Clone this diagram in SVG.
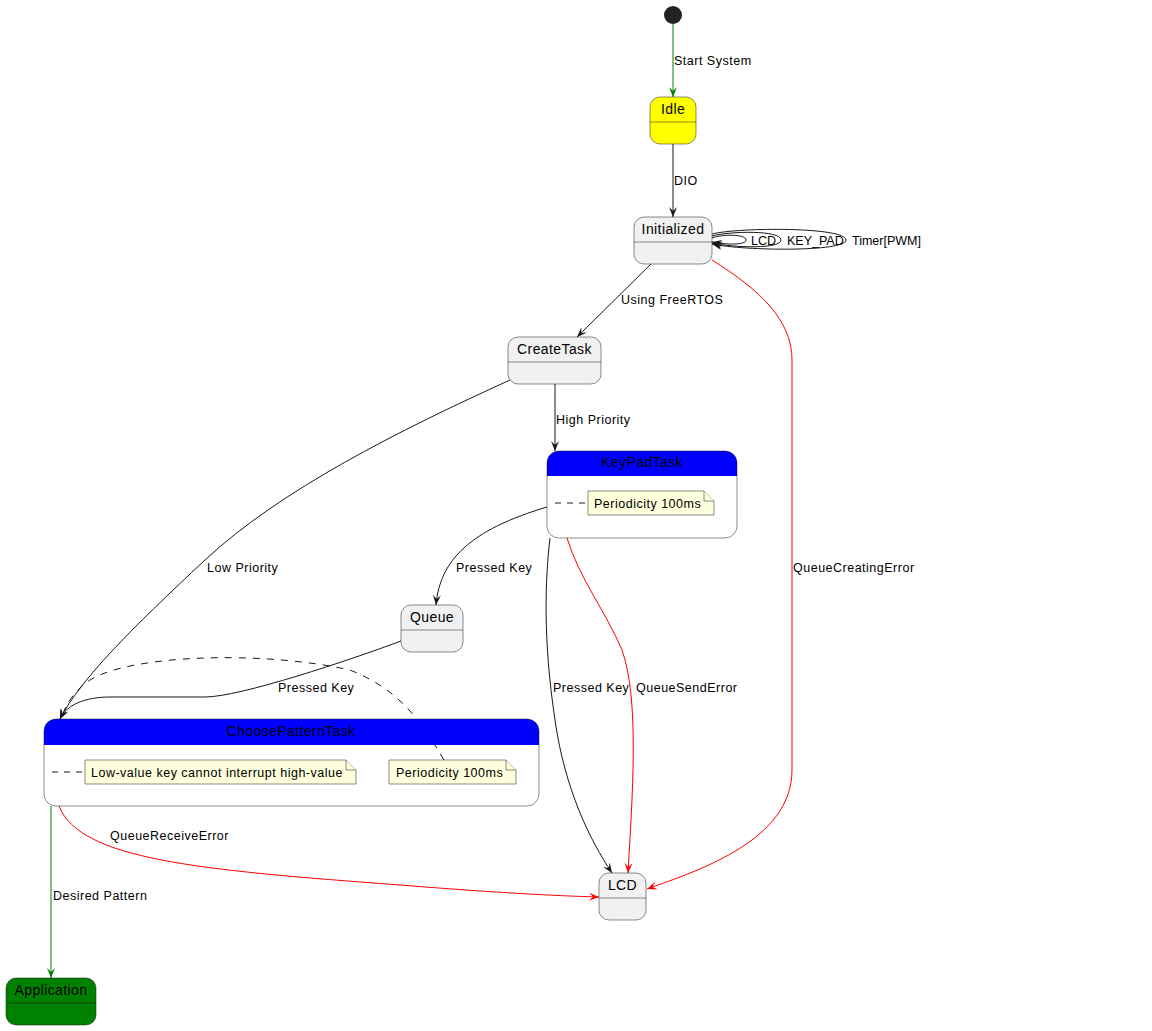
<svg xmlns="http://www.w3.org/2000/svg" width="1152" height="1031" viewBox="0 0 1152 1031">
<style>
text{font-family:"Liberation Sans",Arial,sans-serif;fill:#000}
.lbl{font-size:12.5px;letter-spacing:0.5px}
.lp{font-size:12.5px;letter-spacing:0}
.nm{font-size:14px;text-anchor:middle;letter-spacing:0.4px}
.nt{font-size:12.5px;letter-spacing:0.5px}
.st{fill:#F1F1F1;stroke:#181818;stroke-width:0.5}
.sep{stroke:#181818;stroke-width:0.5;fill:none}
.e{fill:none;stroke:#181818;stroke-width:1}
.r{fill:none;stroke:#FF0000;stroke-width:1}
.g{fill:none;stroke:#008000;stroke-width:1}
.d{fill:none;stroke:#181818;stroke-width:1;stroke-dasharray:7,7}
.note{fill:#FEFFDD;stroke:#181818;stroke-width:0.5}
</style>
<defs>
<marker id="ak" viewBox="0 0 10 10" refX="10" refY="5" markerWidth="10" markerHeight="10" markerUnits="userSpaceOnUse" orient="auto"><path d="M0,1 L10,5 L0,9 L4,5 Z" fill="#181818"/></marker>
<marker id="ar" viewBox="0 0 10 10" refX="10" refY="5" markerWidth="10" markerHeight="10" markerUnits="userSpaceOnUse" orient="auto"><path d="M0,1 L10,5 L0,9 L4,5 Z" fill="#FF0000"/></marker>
<marker id="ag" viewBox="0 0 10 10" refX="10" refY="5" markerWidth="10" markerHeight="10" markerUnits="userSpaceOnUse" orient="auto"><path d="M0,1 L10,5 L0,9 L4,5 Z" fill="#008000"/></marker>
</defs>
<rect width="1152" height="1031" fill="#fff"/>
<g id="connectors">
<path class="g" d="M673,24 L673,97" marker-end="url(#ag)"/>
<text class="lbl" x="674" y="65">Start System</text>
<path class="e" d="M673,144 L673,217" marker-end="url(#ak)"/>
<text class="lbl" x="674" y="185">DIO</text>
<path class="e" d="M712,238 C722,234 746,234 746,240 C746,245 728,245 712,242" marker-end="url(#ak)"/>
<text class="lp" x="751" y="245">LCD</text>
<path class="e" d="M712,236 C730,231 781,230 781,240 C781,249 735,248 712,243" marker-end="url(#ak)"/>
<text class="lp" x="787" y="245">KEY_PAD</text>
<path class="e" d="M712,234 C740,227 846,227 846,240 C846,252 745,251 712,244" marker-end="url(#ak)"/>
<text class="lp" x="852" y="245">Timer[PWM]</text>
<path class="e" d="M651,264 L577,337" marker-end="url(#ak)"/>
<text class="lbl" x="621" y="304">Using FreeRTOS</text>
<path class="r" d="M712,260 C760,290 792,320 792,360 L792,770 C792,840 700,870 647,889" marker-end="url(#ar)"/>
<text class="lbl" x="793" y="572">QueueCreatingError</text>
<path class="e" d="M555,384 L555,451" marker-end="url(#ak)"/>
<text class="lbl" x="556" y="424">High Priority</text>
<path class="e" d="M510,380 C400,430 280,490 205,560 C130,630 80,680 60,719" marker-end="url(#ak)"/>
<text class="lbl" x="207" y="572">Low Priority</text>
<path class="e" d="M547,507 C470,530 440,560 436,605" marker-end="url(#ak)"/>
<text class="lbl" x="456" y="572">Pressed Key</text>
<path class="e" d="M550,538 C545,580 543,640 555,720 C565,790 590,840 612,873" marker-end="url(#ak)"/>
<text class="lbl" x="553" y="692">Pressed Key</text>
<path class="r" d="M567,538 C580,580 605,610 622,650 C640,700 632,800 628,873" marker-end="url(#ar)"/>
<text class="lbl" x="636" y="692">QueueSendError</text>
<path class="e" d="M401,641 C350,660 240,697 205,697 L110,697 C85,697 66,705 60,719" marker-end="url(#ak)"/>
<text class="lbl" x="278" y="692">Pressed Key</text>
<path class="d" d="M444,760 C420,720 400,690 350,670 C260,650 130,655 90,680 C75,690 65,705 62,717"/>
<path class="r" d="M59,806 C80,860 200,870 400,885 C500,893 560,896 599,897" marker-end="url(#ar)"/>
<text class="lbl" x="110" y="840">QueueReceiveError</text>
<path class="g" d="M51,806 L51,978" marker-end="url(#ag)"/>
<text class="lbl" x="53" y="900">Desired Pattern</text>
</g>
<g id="start"><circle cx="673" cy="15" r="9" fill="#222"/></g>
<g id="Idle">
<rect x="650" y="97" width="46" height="47" rx="10" fill="#FFFF00" stroke="#181818" stroke-width="0.5"/>
<line class="sep" x1="650" y1="122" x2="696" y2="122"/>
<text class="nm" x="673" y="114">Idle</text>
</g>
<g id="Initialized">
<rect class="st" x="634" y="217" width="78" height="47" rx="10"/>
<line class="sep" x1="634" y1="242" x2="712" y2="242"/>
<text class="nm" x="673" y="234">Initialized</text>
</g>
<g id="CreateTask">
<rect class="st" x="508" y="337" width="93" height="47" rx="10"/>
<line class="sep" x1="508" y1="362" x2="601" y2="362"/>
<text class="nm" x="554.5" y="354">CreateTask</text>
</g>
<g id="KeyPadTask">
<path d="M547,476 L547,463 A12,12 0 0 1 559,451 L725,451 A12,12 0 0 1 737,463 L737,476 Z" fill="#0000FF"/>
<rect x="547" y="451" width="190" height="87" rx="12" fill="none" stroke="#181818" stroke-width="0.5"/>
<text class="nm" x="642" y="467">KeyPadTask</text>
<path class="d" d="M555,503 L588,503" style="stroke-dasharray:6,6"/>
<path class="note" d="M588,491 L704,491 L714,501 L714,515 L588,515 Z"/>
<path class="note" d="M704,491 L704,501 L714,501"/>
<text class="nt" x="594" y="508">Periodicity 100ms</text>
</g>
<g id="Queue">
<rect class="st" x="401" y="605" width="62" height="47" rx="10"/>
<line class="sep" x1="401" y1="630" x2="463" y2="630"/>
<text class="nm" x="432" y="622">Queue</text>
</g>
<g id="ChoosePatternTask">
<path d="M44,745 L44,731 A12,12 0 0 1 56,719 L527,719 A12,12 0 0 1 539,731 L539,745 Z" fill="#0000FF"/>
<rect x="44" y="719" width="495" height="87" rx="12" fill="none" stroke="#181818" stroke-width="0.5"/>
<text class="nm" x="291" y="736">ChoosePatternTask</text>
<path class="d" d="M52,772 L85,772" style="stroke-dasharray:6,6"/>
<path class="note" d="M85,760 L346,760 L356,770 L356,784 L85,784 Z"/>
<path class="note" d="M346,760 L346,770 L356,770"/>
<text class="nt" x="91" y="777">Low-value key cannot interrupt high-value</text>
<path class="note" d="M389,760 L506,760 L516,770 L516,784 L389,784 Z"/>
<path class="note" d="M506,760 L506,770 L516,770"/>
<text class="nt" x="396" y="777">Periodicity 100ms</text>
</g>
<g id="LCD">
<rect class="st" x="599" y="873" width="47" height="47" rx="10"/>
<line class="sep" x1="599" y1="898" x2="646" y2="898"/>
<text class="nm" x="622.5" y="890">LCD</text>
</g>
<g id="Application">
<rect x="6" y="978" width="90" height="47" rx="10" fill="#008000" stroke="#181818" stroke-width="0.5"/>
<line class="sep" x1="6" y1="1003" x2="96" y2="1003"/>
<text class="nm" x="51" y="995">Application</text>
</g>
</svg>
